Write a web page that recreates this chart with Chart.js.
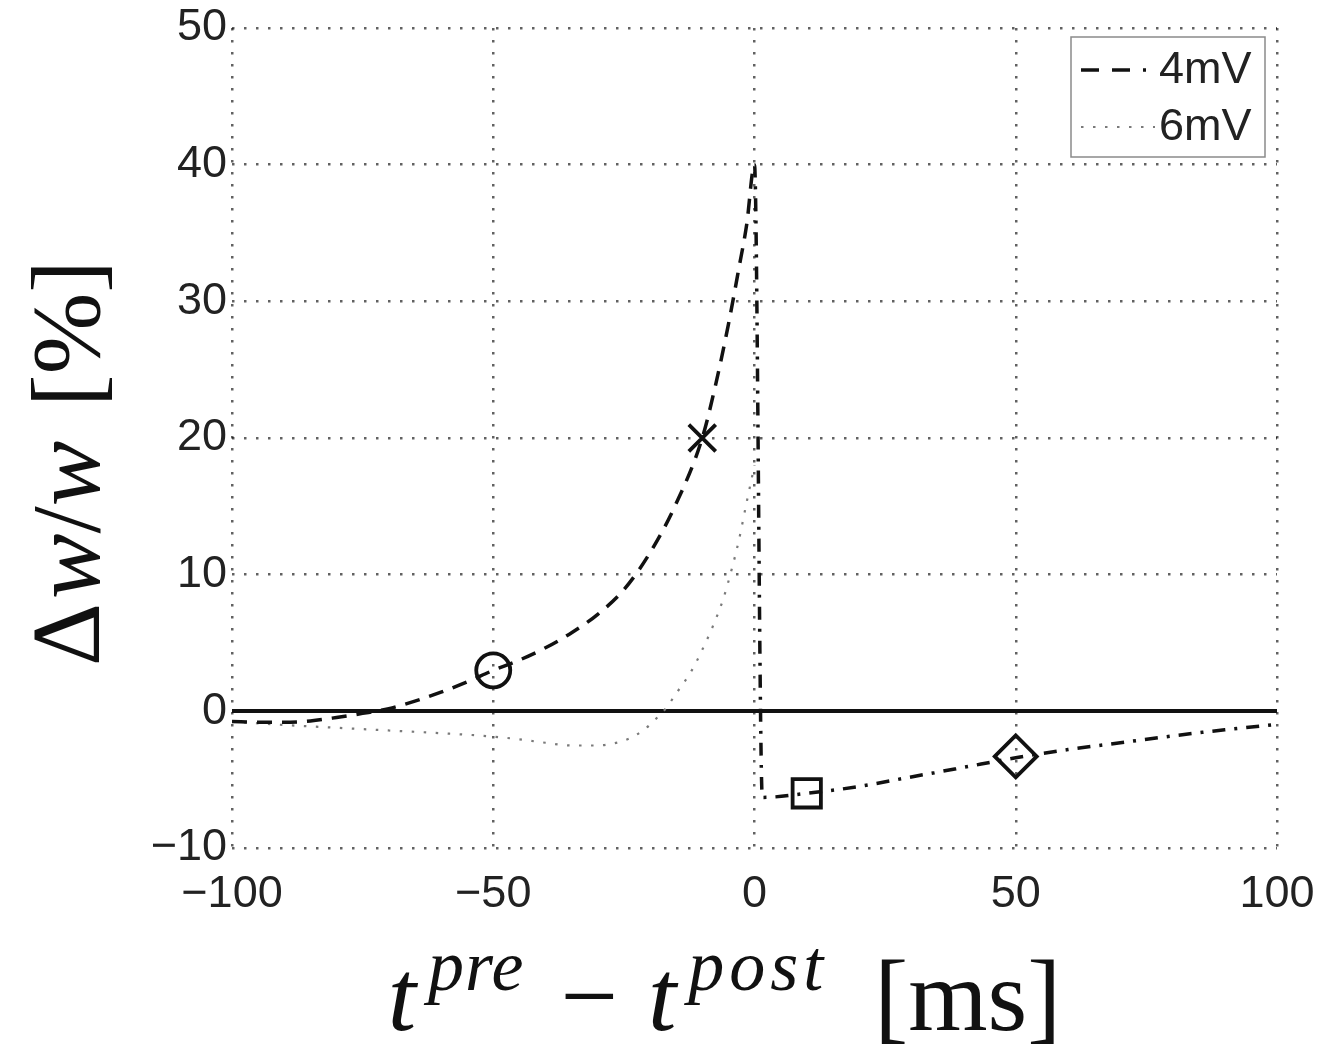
<!DOCTYPE html>
<html>
<head>
<meta charset="utf-8">
<script src="https://cdn.jsdelivr.net/npm/chart.js@4.4.0/dist/chart.umd.min.js"></script>
<style>
html,body{margin:0;padding:0;background:#fff;}
#wrap{width:1323px;height:1051px;}
</style>
</head>
<body>
<div id="wrap"><canvas id="c" width="1323" height="1051"></canvas></div>
<script>
// ---- data ----
const seriesLabels = ['4mV', '6mV'];

const x4mV = [-100, -95, -90, -85, -80, -75, -70, -65, -60, -55, -50, -45, -40, -35, -30, -25, -20, -15, -10, -7.5, -5, -3, -1.5, 0,
              1.5, 10, 20, 30, 40, 50, 60, 70, 80, 90, 100];
const y4mV = [-0.75, -0.8, -0.8, -0.7, -0.45, -0.15, 0.2, 0.75, 1.4, 2.15, 3.0, 3.75, 4.65, 5.75, 7.1, 8.9, 11.6, 15.2, 20.0, 23.8, 28.3, 32.4, 35.6, 40.0,
              -6.3, -6.0, -5.5, -4.8, -4.1, -3.4, -2.8, -2.3, -1.8, -1.35, -0.95];

const x6mV = [-100, -90, -80, -70, -60, -50, -45, -40, -35, -30, -27, -24, -21, -19, -17, -15, -12, -10, -8, -6, -4.5, -3, -1.5, 0];
const y6mV = [-0.75, -1.0, -1.2, -1.4, -1.6, -1.85, -2.05, -2.3, -2.5, -2.5, -2.35, -2.0, -1.3, -0.6, 0.2, 1.3, 3.0, 4.5, 6.2, 8.2, 10.2, 12.5, 15.3, 18.0];

const markerX = [-50, -10, 10, 50];
const markerY = [3.0, 20.0, -6.0, -3.3];
const markerShapes = ['circle', 'crossRot', 'rect', 'rectRot'];

const xTickValues = [-100, -50, 0, 50, 100];
const yTickValues = [-10, 0, 10, 20, 30, 40, 50];

// ---- styling ----
const DASH_LEFT = [15, 10];
const DASH_DOT = [13, 9, 3, 9];
const DOT = [2.5, 9.5];
const GRID_DASH = [2.5, 9.5];
const GRID_COLOR = 'rgba(0,0,0,0.62)';
const tickFont = {family: "'Liberation Sans', Arial, sans-serif", size: 45};
const fmt = v => (v < 0 ? '\u2212' + Math.abs(v) : String(v));

const toPts = (xs, ys) => xs.map((x, i) => ({x: x, y: ys[i]}));

const titlePlugin = {
  id: 'mathTitles',
  afterDraw(chart) {
    const ctx = chart.ctx;
    const ca = chart.chartArea;
    ctx.save();
    ctx.fillStyle = '#111';
    ctx.textBaseline = 'alphabetic';
    const it = s => `italic ${s}px 'Liberation Serif', 'DejaVu Serif', serif`;
    const up = s => `${s}px 'Liberation Serif', 'DejaVu Serif', serif`;
    // ---- x title: t^pre − t^post [ms] ----
    const big = 102, sup = 72;
    const parts = [
      {t: 't', f: it(big), dy: 0, gap: 12, ls: 0},
      {t: 'pre', f: it(sup), dy: -40, gap: 36, ls: 1},
      {t: '\u2212', f: up(big), dy: 0, gap: 30, ls: 0},
      {t: 't', f: it(big), dy: 0, gap: 12, ls: 0},
      {t: 'post', f: it(sup), dy: -40, gap: 46, ls: 5},
      {t: '[ms]', f: up(big), dy: 0, gap: 0, ls: 0}
    ];
    let total = 0;
    parts.forEach(p => {
      ctx.font = p.f; ctx.letterSpacing = p.ls + 'px';
      p.w = ctx.measureText(p.t).width; total += p.w + p.gap;
    });
    let x = (ca.left + ca.right) / 2 - 30 - total / 2;
    const base = 1030;
    parts.forEach(p => {
      ctx.font = p.f; ctx.letterSpacing = p.ls + 'px';
      ctx.fillText(p.t, x, base + p.dy); x += p.w + p.gap;
    });
    ctx.letterSpacing = '0px';

    // ---- y title: Δw/w [%] ----
    ctx.translate(99, 463);
    ctx.rotate(-Math.PI / 2);
    const ys = 98;
    const yparts = [
      {t: '\u0394', f: up(ys), gap: 4},
      {t: 'w', f: it(ys), gap: 0},
      {t: '/', f: up(ys), gap: 0},
      {t: 'w', f: it(ys), gap: 34},
      {t: '[%]', f: up(ys), gap: 0}
    ];
    total = 0;
    yparts.forEach(p => { ctx.font = p.f; p.w = ctx.measureText(p.t).width; total += p.w + p.gap; });
    x = -total / 2;
    yparts.forEach(p => { ctx.font = p.f; ctx.fillText(p.t, x, 0); x += p.w + p.gap; });
    ctx.restore();
  }
};

const legendPlugin = {
  id: 'boxLegend',
  afterDraw(chart) {
    const ctx = chart.ctx;
    const ca = chart.chartArea;
    const w = 194, h = 120;
    const bx = ca.right - 12 - w, by = ca.top + 9;
    ctx.save();
    ctx.fillStyle = '#fff';
    ctx.fillRect(bx, by, w, h);
    ctx.strokeStyle = '#8a8a8a';
    ctx.lineWidth = 1.5;
    ctx.setLineDash([]);
    ctx.strokeRect(bx, by, w, h);
    const items = chart.data.datasets.filter(d => d.legendDash);
    items.forEach((d, i) => {
      const cy = by + 33 + i * 57;
      ctx.strokeStyle = d.borderColor;
      ctx.lineWidth = d.borderWidth;
      ctx.setLineDash(d.legendDash);
      ctx.beginPath();
      ctx.moveTo(bx + 10, cy);
      ctx.lineTo(bx + 84, cy);
      ctx.stroke();
      ctx.setLineDash([]);
      ctx.fillStyle = '#222';
      ctx.font = "45px 'Liberation Sans', Arial, sans-serif";
      ctx.textBaseline = 'middle';
      ctx.fillText(d.label, bx + 88, cy + 1);
    });
    ctx.restore();
  }
};

new Chart(document.getElementById('c'), {
  type: 'line',
  data: {
    datasets: [
      {
        label: seriesLabels[0],
        data: toPts(x4mV, y4mV),
        borderColor: '#111',
        borderWidth: 3.5,
        pointRadius: 0,
        fill: false,
        cubicInterpolationMode: 'monotone',
        borderDash: DASH_LEFT,
        legendDash: [18, 13, 18, 13, 3, 200],
        segment: {
          borderDash: c => (c.p0.parsed.x >= 0 ? DASH_DOT : DASH_LEFT)
        },
        order: 2
      },
      {
        label: seriesLabels[1],
        data: toPts(x6mV, y6mV),
        borderColor: '#7a7a7a',
        borderWidth: 2.2,
        pointRadius: 0,
        fill: false,
        cubicInterpolationMode: 'monotone',
        borderDash: DOT,
        legendDash: [2.5, 9.5],
        order: 3
      },
      {
        label: '',
        data: toPts(markerX, markerY),
        showLine: false,
        pointStyle: markerShapes,
        pointRadius: [17, 19, 20, 21],
        pointBorderWidth: 3.8,
        pointBorderColor: '#111',
        pointBackgroundColor: 'rgba(0,0,0,0)',
        order: 1
      }
    ]
  },
  options: {
    responsive: false,
    animation: false,
    layout: {padding: {top: 28, right: 46, left: 0, bottom: 0}},
    plugins: {legend: {display: false}, tooltip: {enabled: false}},
    scales: {
      x: {
        type: 'linear',
        min: -100, max: 100,
        afterBuildTicks: s => { s.ticks = xTickValues.map(v => ({value: v})); },
        afterFit: s => { s.height = 203; s.paddingRight = 0; s.paddingLeft = 0; },
        ticks: {font: tickFont, color: '#222', padding: 20, maxRotation: 0, callback: fmt},
        grid: {color: GRID_COLOR, lineWidth: 2.5, drawTicks: false},
        border: {display: false, dash: GRID_DASH}
      },
      y: {
        type: 'linear',
        min: -10, max: 50,
        afterBuildTicks: s => { s.ticks = yTickValues.map(v => ({value: v})); },
        afterFit: s => { s.width = 232; s.paddingTop = 0; s.paddingBottom = 0; },
        ticks: {font: tickFont, color: '#222', padding: 5, callback: fmt},
        grid: {
          color: c => (c.tick && c.tick.value === 0 ? '#111' : GRID_COLOR),
          lineWidth: c => (c.tick && c.tick.value === 0 ? 4 : 2.5),
          drawTicks: false
        },
        border: {display: false, dash: c => (c.tick && c.tick.value === 0 ? [] : GRID_DASH)}
      }
    }
  },
  plugins: [titlePlugin, legendPlugin]
});
</script>
</body>
</html>
